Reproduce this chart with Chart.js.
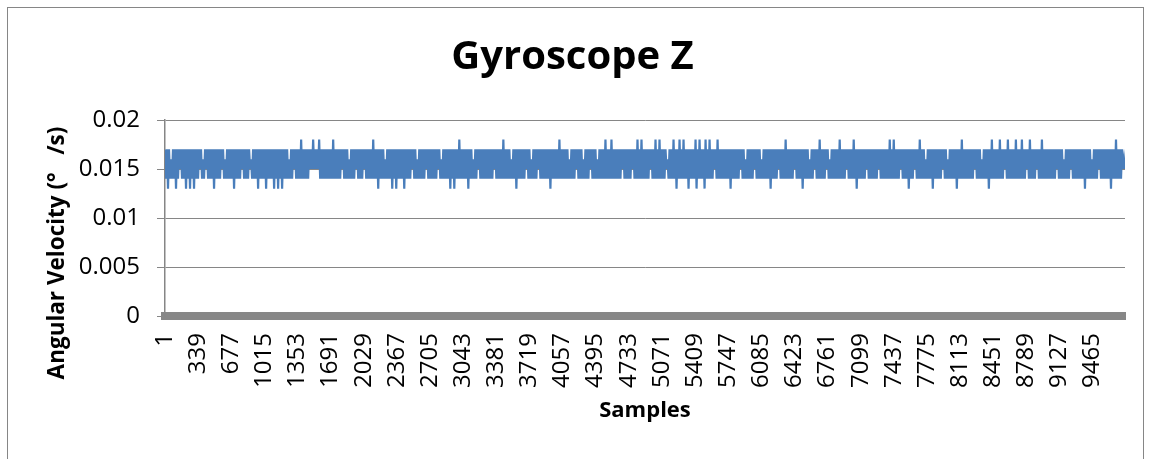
<!DOCTYPE html>
<html>
<head>
<meta charset="utf-8">
<title>Gyroscope Z</title>
<script src="https://cdn.jsdelivr.net/npm/chart.js@4/dist/chart.umd.min.js"></script>
<style>
  html, body { margin: 0; padding: 0; background: #fff; overflow: hidden; }
  #wrap { position: relative; width: 1151px; height: 459px; }
  #frame {
    position: absolute; left: 7px; top: 7px; width: 1135px; height: 470px;
    border: 1px solid #868686; pointer-events: none;
  }
  canvas { position: absolute; left: 0; top: 0; }
</style>
</head>
<body>
<div id="wrap">
  <canvas id="gyroChart" width="1151" height="459"></canvas>
  <div id="frame"></div>
</div>
<script>
// ----------------------
// Data
// ----------------------
// each digit is one reading level, pairs are (high, low) per pixel column of the plot
const levelValues = { 3: 0.013, 4: 0.014, 5: 0.015, 6: 0.016, 7: 0.017, 8: 0.018 };
const levelRows = [
  '74 73 74 64 74 73 74 75 74 74 73 74 73 74 73 74 74 75 74 64 75 74 74 74 73 74 74 74 75 74 64 74 74 74 73 74 74 74 75 74',
  '74 74 75 64 74 74 73 74 74 74 73 74 74 74 73 74 73 74 73 74 74 74 64 74 75 74 74 74 84 74 74 74 75 75 85 75 75 84 74 74',
  '74 74 74 74 84 74 74 74 75 74 74 74 64 74 74 75 74 74 74 75 74 74 74 74 84 74 73 74 74 74 64 74 74 73 74 73 74 74 74 73',
  '74 74 74 75 74 74 64 74 74 74 75 74 74 74 74 74 75 74 64 74 74 74 73 74 73 74 74 84 74 74 74 73 74 74 64 74 75 74 74 74',
  '74 74 74 74 75 74 74 74 74 84 74 74 74 64 74 73 74 74 74 74 75 74 74 64 74 74 75 74 74 74 74 74 73 74 74 74 74 84 74 74',
  '74 74 64 74 74 75 74 74 74 64 74 74 75 74 74 74 64 74 74 74 84 74 74 84 74 74 74 74 75 74 74 74 74 75 74 74 84 74 84 74',
  '74 74 75 74 74 84 74 84 74 74 75 64 74 74 84 73 74 84 74 84 74 73 74 74 74 83 74 84 74 73 84 74 84 74 75 74 84 74 74 74',
  '74 74 73 74 74 74 74 75 74 74 64 74 74 74 75 74 74 74 64 74 74 74 73 74 74 74 75 74 74 74 84 74 74 74 75 74 74 74 73 74',
  '74 74 64 74 75 74 74 84 74 74 75 74 64 74 74 74 74 84 74 74 75 74 74 74 84 73 74 74 74 74 75 74 74 74 74 74 75 74 74 74',
  '74 74 84 74 84 74 74 75 74 74 74 73 74 74 75 74 74 84 74 74 64 74 74 73 74 74 74 74 75 74 74 64 74 74 74 73 74 74 84 74',
  '74 74 74 74 75 74 74 74 64 74 74 73 74 84 74 74 74 84 74 75 74 84 74 74 74 84 74 74 84 74 75 74 84 74 74 75 74 74 84 74',
  '74 74 74 74 74 75 74 74 74 64 74 74 75 74 74 74 74 74 74 73 74 74 74 64 74 74 75 74 74 74 74 74 73 74 74 84 74 74 75 65',
];
const sampleCount = 9796;
const sampleTicks = [1, 339, 677, 1015, 1353, 1691, 2029, 2367, 2705, 3043, 3381, 3719, 4057, 4395,
  4733, 5071, 5409, 5747, 6085, 6423, 6761, 7099, 7437, 7775, 8113, 8451, 8789, 9127, 9465];
const yTicks = [0, 0.005, 0.01, 0.015, 0.02];

const colors = {
  line: '#4A7EBB',
  axis: '#868686',
  bar: '#878787',
  text: '#000000',
};
const fontFamily = "'Open Sans', 'Noto Sans', sans-serif";

const levels = levelRows.join('').replace(/\s/g, '').split('');
const points = levels.map((d, i) => ({
  x: 1 + (i * (sampleCount - 1)) / (levels.length - 1),
  y: levelValues[d],
}));

// y axis title drawn by hand so it centres like the original (plot + labels)
const yTitlePlugin = {
  id: 'yTitle',
  afterDraw(chart) {
    const ctx = chart.ctx;
    ctx.save();
    ctx.translate(58, 253);
    ctx.rotate(-Math.PI / 2);
    ctx.font = `bold 22.5px ${fontFamily}`;
    ctx.fillStyle = colors.text;
    ctx.textAlign = 'center';
    ctx.textBaseline = 'middle';
    ctx.fillText('Angular Velocity (°   /s)', 0, 0);
    ctx.restore();
  },
};

new Chart(document.getElementById('gyroChart'), {
  type: 'line',
  data: {
    datasets: [
      {
        label: 'Gyroscope Z',
        data: points,
        borderColor: colors.line,
        borderWidth: 2.2,
        pointRadius: 0,
        tension: 0,
        fill: false,
      },
    ],
  },
  options: {
    responsive: false,
    animation: false,
    events: [],
    layout: { padding: { left: 20, right: 26, top: 0, bottom: 0 } },
    plugins: {
      legend: { display: false },
      tooltip: { enabled: false },
      title: {
        display: true,
        text: 'Gyroscope Z',
        color: colors.text,
        font: { family: fontFamily, size: 40, weight: 'bold', lineHeight: 1 },
        padding: { top: 38, bottom: 42 },
      },
    },
    scales: {
      x: {
        type: 'linear',
        min: 1,
        max: sampleCount,
        afterBuildTicks: (scale) => {
          scale.ticks = sampleTicks.map((v) => ({ value: v }));
        },
        afterFit: (scale) => {
          scale.height = 143;
        },
        ticks: {
          autoSkip: false,
          maxRotation: 90,
          minRotation: 90,
          padding: 17,
          color: colors.text,
          font: { family: fontFamily, size: 24 },
          callback: (v) => String(v),
        },
        grid: { display: false, drawTicks: false },
        border: { display: true, color: colors.bar, width: 8 },
        title: {
          display: true,
          text: 'Samples',
          color: colors.text,
          font: { family: fontFamily, size: 22, weight: 'bold', lineHeight: 1.2 },
          padding: { top: 0, bottom: 35 },
        },
      },
      y: {
        min: 0,
        max: 0.02,
        afterBuildTicks: (scale) => {
          scale.ticks = yTicks.map((v) => ({ value: v }));
        },
        afterFit: (scale) => {
          scale.width = 145;
        },
        ticks: {
          padding: 17,
          color: colors.text,
          font: { family: fontFamily, size: 24 },
          callback: (v) => String(+v.toFixed(3)),
        },
        grid: { color: colors.axis, lineWidth: 1, tickLength: 8, drawTicks: true },
        border: { display: true, color: colors.axis, width: 1.5 },
      },
    },
  },
  plugins: [yTitlePlugin],
});
</script>
</body>
</html>
